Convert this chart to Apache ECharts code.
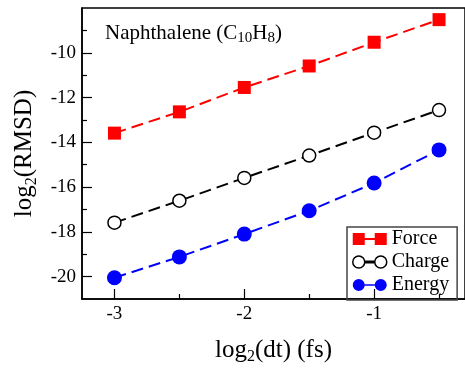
<!DOCTYPE html>
<html>
<head>
<meta charset="utf-8">
<script src="https://cdn.jsdelivr.net/npm/echarts@6/dist/echarts.min.js"></script>
<style>
  html, body { margin: 0; padding: 0; background: #fff; }
  #chart { width: 465px; height: 370px; }
</style>
</head>
<body>
<div id="chart"></div>
<script>
// log2(dt) in fs
const DT = [-3, -2.5, -2, -1.5, -1, -0.5];
// log2(RMSD) per quantity
const FORCE = [-13.59, -12.64, -11.55, -10.59, -9.53, -8.52];
const CHARGE = [-17.59, -16.61, -15.59, -14.59, -13.57, -12.56];
const ENERGY = [-20.05, -19.12, -18.10, -17.06, -15.82, -14.34];

const X_LABELS = [-3, -2, -1];
const X_MINOR = [-2.5, -1.5, -0.5];
const Y_LABELS = [-20, -18, -16, -14, -12, -10];
const Y_MINOR = [-19, -17, -15, -13, -11, -9];

const FONT = 'Liberation Serif';
const pairs = (ys) => DT.map((x, i) => [x, ys[i]]);

const ICON_SQ = 'path://M0,0h12v12h-12zM12,5h10v2h-10zM22,0h12v12h-12z';
const ICON_CI = 'path://M0,6a6,6 0 1,0 12,0a6,6 0 1,0 -12,0zM12,5.2h10v1.6h-10zM22,6a6,6 0 1,0 12,0a6,6 0 1,0 -12,0z';

const chart = echarts.init(document.getElementById('chart'), null, { renderer: 'canvas' });

const tickLabel = (labels) => ({
  customValues: labels, margin: 6,
  formatter: (v) => '{t|' + v + '}',
  rich: { t: { fontFamily: FONT, fontSize: 19, fontWeight: 'normal', color: '#000' } },
});

const majorAxis = (labels, extra) => Object.assign({
  type: 'value',
  axisLine: { show: true, lineStyle: { color: '#000', width: 1.5 } },
  axisTick: { show: true, inside: true, length: 10, customValues: labels, lineStyle: { color: '#000', width: 1.2 } },
  axisLabel: tickLabel(labels),
  splitLine: { show: false },
}, extra);

const minorAxis = (ticks, extra) => Object.assign({
  type: 'value',
  axisLine: { show: false },
  axisTick: { show: true, inside: true, length: 5, customValues: ticks, lineStyle: { color: '#000', width: 1.2 } },
  axisLabel: { show: false },
  splitLine: { show: false },
}, extra);

const nameRich = {
  a: { fontFamily: FONT, fontSize: 25, fontWeight: 'normal', color: '#000', lineHeight: 30 },
  s: { fontFamily: FONT, fontSize: 16, fontWeight: 'normal', color: '#000', lineHeight: 16, verticalAlign: 'bottom' },
};

chart.setOption({
  animation: false,
  backgroundColor: '#fff',
  textStyle: { fontFamily: FONT },
  grid: {
    left: 82, top: 8, right: 0, bottom: 50,
    show: true, borderColor: '#000', borderWidth: 1.5,
  },
  title: {
    text: '{a|Naphthalene (C}{s|10}{a|H}{s|8}{a|)}',
    left: 100, top: 15,
    textStyle: {
      fontWeight: 'normal',
      rich: {
        a: { fontFamily: FONT, fontSize: 21, fontWeight: 'normal', color: '#000', lineHeight: 26 },
        s: { fontFamily: FONT, fontSize: 15, fontWeight: 'normal', color: '#000', lineHeight: 14, verticalAlign: 'bottom' },
      },
    },
  },
  legend: {
    orient: 'vertical',
    left: 347, top: 227,
    padding: [2, 8, 5, 5],
    itemGap: 3,
    itemWidth: 34, itemHeight: 12,
    borderColor: '#444', borderWidth: 1.5,
    textStyle: { fontFamily: FONT, fontSize: 20, color: '#000' },
    data: [
      { name: 'Force', icon: ICON_SQ, itemStyle: { color: '#ff0000', borderWidth: 0 } },
      { name: 'Charge', icon: ICON_CI, itemStyle: { color: '#fff', borderColor: '#000', borderWidth: 1.5 } },
      { name: 'Energy', icon: ICON_CI, itemStyle: { color: '#0000ff', borderWidth: 0 } },
    ],
  },
  xAxis: [
    majorAxis(X_LABELS, {
      min: -3.25, max: -0.3,
      name: '{a|log}{s|2}{a|(dt) (fs)}',
      nameLocation: 'middle', nameGap: 36,
      nameTextStyle: { rich: nameRich },
    }),
    minorAxis(X_MINOR, { min: -3.25, max: -0.3, position: 'bottom' }),
  ],
  yAxis: [
    majorAxis(Y_LABELS, {
      min: -21, max: -8,
      name: '{a|log}{s|2}{a|(RMSD)}',
      nameLocation: 'middle', nameGap: 33,
      nameTextStyle: { rich: nameRich },
    }),
    minorAxis(Y_MINOR, { min: -21, max: -8, position: 'left' }),
  ],
  series: [
    {
      name: 'Force', type: 'line', data: pairs(FORCE),
      symbol: 'rect', symbolSize: 13,
      color: '#ff0000',
      itemStyle: { color: '#ff0000' },
      lineStyle: { color: '#ff0000', width: 2, type: [12, 6] },
    },
    {
      name: 'Charge', type: 'line', data: pairs(CHARGE),
      symbol: 'circle', symbolSize: 13,
      color: '#000',
      itemStyle: { color: '#fff', borderColor: '#000', borderWidth: 1.5 },
      lineStyle: { color: '#000', width: 2, type: [12, 6] },
    },
    {
      name: 'Energy', type: 'line', data: pairs(ENERGY),
      symbol: 'circle', symbolSize: 15,
      color: '#0000ff',
      itemStyle: { color: '#0000ff' },
      lineStyle: { color: '#0000ff', width: 2, type: [12, 6] },
    },
  ],
});
</script>
</body>
</html>
